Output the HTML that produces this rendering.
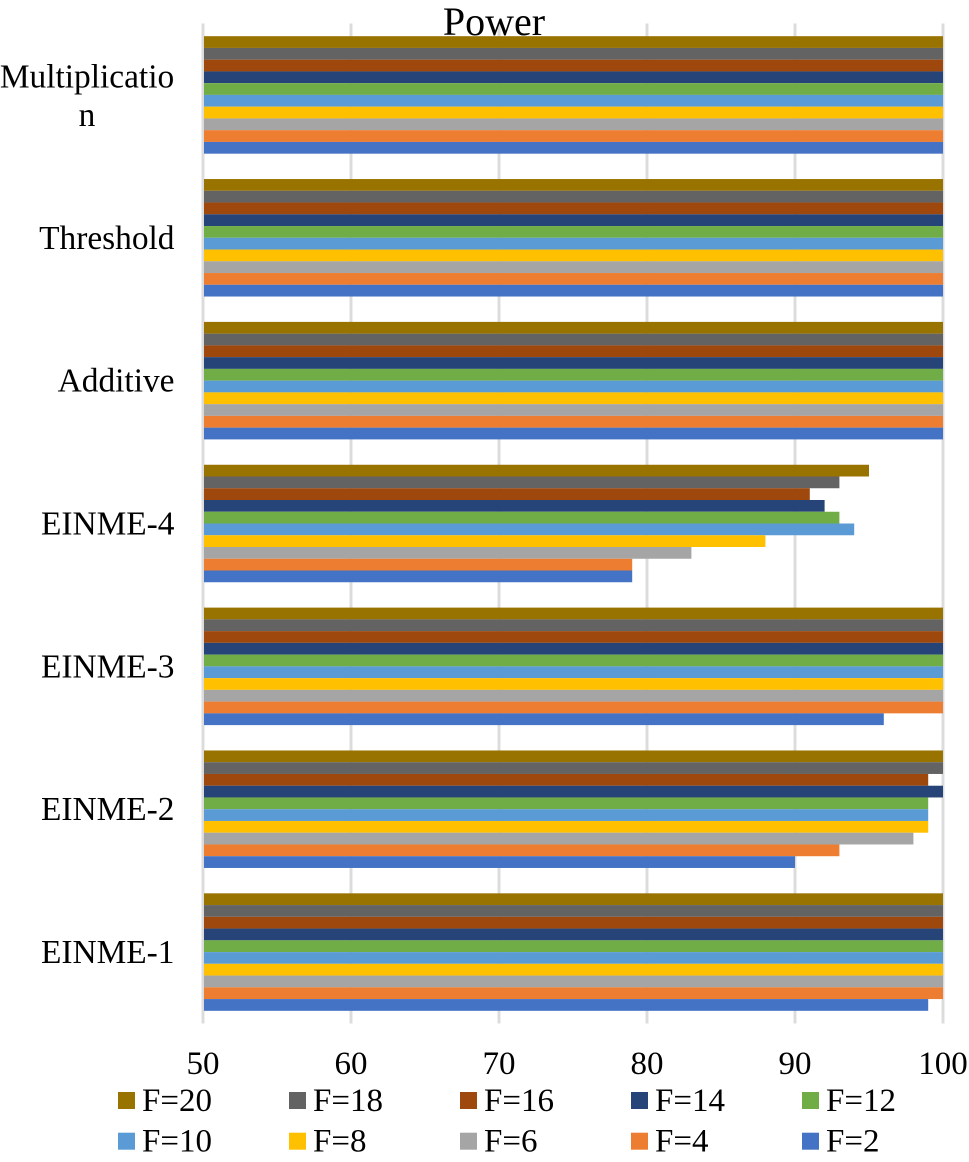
<!DOCTYPE html>
<html lang="en">
<head>
<meta charset="utf-8">
<title>Power</title>
<style>
html,body{margin:0;padding:0;background:#fff;}
svg{display:block;font-family:"Liberation Serif",serif;}
</style>
</head>
<body>
<svg id="chart" xmlns="http://www.w3.org/2000/svg" width="969" height="1162" viewBox="0 0 969 1162"></svg>
<script>
const categories = ["Multiplication", "Threshold", "Additive", "EINME-4", "EINME-3", "EINME-2", "EINME-1"];
const seriesNames = ["F=20", "F=18", "F=16", "F=14", "F=12", "F=10", "F=8", "F=6", "F=4", "F=2"];
const seriesColors = ["#997300", "#636363", "#9e480e", "#264478", "#70ad47", "#5b9bd5", "#ffc000", "#a5a5a5", "#ed7d31", "#4472c4"];
const valuesF20 = [100, 100, 100, 95, 100, 100, 100];
const valuesF18 = [100, 100, 100, 93, 100, 100, 100];
const valuesF16 = [100, 100, 100, 91, 100, 99, 100];
const valuesF14 = [100, 100, 100, 92, 100, 100, 100];
const valuesF12 = [100, 100, 100, 93, 100, 99, 100];
const valuesF10 = [100, 100, 100, 94, 100, 99, 100];
const valuesF8 = [100, 100, 100, 88, 100, 99, 100];
const valuesF6 = [100, 100, 100, 83, 100, 98, 100];
const valuesF4 = [100, 100, 100, 79, 100, 93, 100];
const valuesF2 = [100, 100, 100, 79, 96, 90, 99];
const seriesValues = [valuesF20, valuesF18, valuesF16, valuesF14, valuesF12, valuesF10, valuesF8, valuesF6, valuesF4, valuesF2];
const tickValues = [50, 60, 70, 80, 90, 100];
const chartTitle = "Power";

const svg = document.getElementById('chart');
const NS = 'http://www.w3.org/2000/svg';
const plotTop = 23.5;
const plotBottom = 1023.5;
const axisMin = tickValues[0];
const axisMax = tickValues[tickValues.length - 1];

function xScale(v) {
  return 203 + (v - axisMin) / (axisMax - axisMin) * 740;
}
function groupCenter(i) {
  return plotTop + (i + 0.5) * (plotBottom - plotTop) / categories.length;
}
function make(tag, attrs, text) {
  const el = document.createElementNS(NS, tag);
  for (const k in attrs) el.setAttribute(k, attrs[k]);
  if (text !== undefined) el.textContent = text;
  svg.appendChild(el);
  return el;
}

tickValues.forEach(function (t) {
  const grid = make('line', { x1: xScale(t), x2: xScale(t), y1: plotTop, y2: plotBottom, stroke: '#dcdcdc', 'stroke-width': 3 });
  
  
  const label = make('text', { x: xScale(t), y: 1074, 'font-size': 33, 'text-anchor': 'middle', fill: '#000' }, String(t));
  
  
});

const barH = 11.75;
categories.forEach(function (cat, c) {
  const top = groupCenter(c) - barH * seriesNames.length / 2;
  seriesNames.forEach(function (name, s) {
    const x0 = xScale(axisMin) + 1;
    const bar = make('rect', { x: x0, y: top + s * barH, width: xScale(seriesValues[s][c]) - x0, height: barH, fill: seriesColors[s] });
    
    
  });
  if (cat.length > 13) {
    const l1 = make('text', { x: 87, y: groupCenter(c) - 7.5, 'font-size': 33.4, 'text-anchor': 'middle', fill: '#000' }, cat.slice(0, 13));
    
    
    const l2 = make('text', { x: 87, y: groupCenter(c) + 31, 'font-size': 33.4, 'text-anchor': 'middle', fill: '#000' }, cat.slice(13));
    
    
  } else {
    const lab = make('text', { x: 174.5, y: groupCenter(c) + 11, 'font-size': 33.4, 'text-anchor': 'end', fill: '#000' }, cat);
    
    
  }
});

const title = make('text', { x: 494, y: 35, 'font-size': 40, 'text-anchor': 'middle', fill: '#000' }, chartTitle);



seriesNames.forEach(function (name, s) {
  const col = s % 5;
  const row = Math.floor(s / 5);
  const sw = make('rect', { x: 118 + col * 171, y: 1092 + row * 40.7, width: 17, height: 17, fill: seriesColors[s] });
  
  
  const tx = make('text', { x: 142 + col * 171, y: 1111 + row * 40.7, 'font-size': 33, fill: '#000' }, name);
  
  
});
</script>
</body>
</html>
